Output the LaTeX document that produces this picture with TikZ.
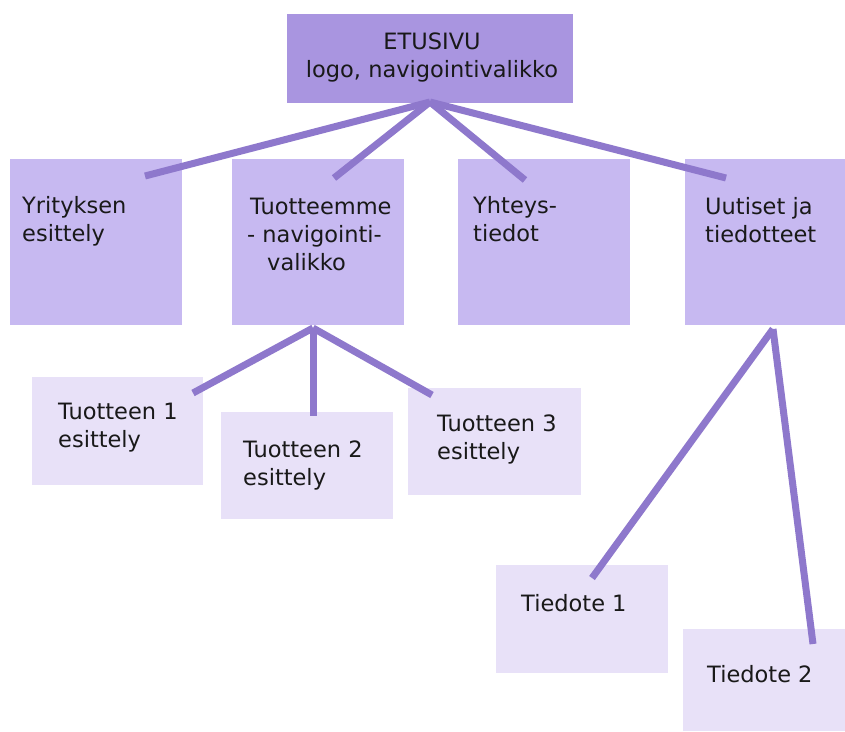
\documentclass[tikz,border=0pt]{standalone}
\usepackage{fontspec}
\setmainfont{DejaVu Sans}
\definecolor{topc}{HTML}{A995E0}
\definecolor{midc}{HTML}{C7B9F1}
\definecolor{lowc}{HTML}{E8E1F8}
\definecolor{linec}{HTML}{8E78CC}
\tikzset{
  boxbase/.style={draw=none, inner sep=0pt, anchor=north west},
  toplevel/.style={boxbase, fill=topc},
  midlevel/.style={boxbase, fill=midc},
  lowlevel/.style={boxbase, fill=lowc},
  txt/.style={inner sep=0pt, anchor=base west, font=\fontsize{22.5}{28}\selectfont, text=black!90},
  txtc/.style={txt, anchor=base},
  conn/.style={draw=linec, line width=7pt, line cap=butt}
}
\begin{document}
\begin{tikzpicture}[x=1pt,y=-1pt]
\useasboundingbox[fill=white] (0,0) rectangle (845,731);
% boxes
\node[toplevel, minimum width=286pt, minimum height=89pt] (etu) at (287,14) {};
\node[midlevel, minimum width=172pt, minimum height=166pt] (yri) at (10,159) {};
\node[midlevel, minimum width=172pt, minimum height=166pt] (tuo) at (232,159) {};
\node[midlevel, minimum width=172pt, minimum height=166pt] (yht) at (458,159) {};
\node[midlevel, minimum width=160pt, minimum height=166pt] (uut) at (685,159) {};
\node[lowlevel, minimum width=171pt, minimum height=108pt] (t1) at (32,377) {};
\node[lowlevel, minimum width=172pt, minimum height=107pt] (t2) at (221,412) {};
\node[lowlevel, minimum width=173pt, minimum height=107pt] (t3) at (408,388) {};
\node[lowlevel, minimum width=172pt, minimum height=108pt] (ti1) at (496,565) {};
\node[lowlevel, minimum width=162pt, minimum height=102pt] (ti2) at (683,629) {};
% texts
\node[txtc] (etu-a) at (432,49) {ETUSIVU};
\node[txtc] (etu-b) at (432,77) {logo, navigointivalikko};
\node[txt] (yri-a) at (22,213) {Yrityksen};
\node[txt] (yri-b) at (22,241) {esittely};
\node[txt] (tuo-a) at (250,214) {Tuotteemme};
\node[txt] (tuo-b) at (247,242) {- navigointi-};
\node[txt] (tuo-c) at (267,270) {valikko};
\node[txt] (yht-a) at (473,213) {Yhteys-};
\node[txt] (yht-b) at (473,241) {tiedot};
\node[txt] (uut-a) at (705,214) {Uutiset ja};
\node[txt] (uut-b) at (705,242) {tiedotteet};
\node[txt] (t1-a) at (58,419) {Tuotteen 1};
\node[txt] (t1-b) at (58,447) {esittely};
\node[txt] (t2-a) at (243,457) {Tuotteen 2};
\node[txt] (t2-b) at (243,485) {esittely};
\node[txt] (t3-a) at (437,431) {Tuotteen 3};
\node[txt] (t3-b) at (437,459) {esittely};
\node[txt] (ti1-a) at (521,611) {Tiedote 1};
\node[txt] (ti2-a) at (707,682) {Tiedote 2};
% connector points
\coordinate (j0) at (430,102);
\coordinate (e-yri) at (145,176);
\coordinate (e-tuo) at (334,178);
\coordinate (e-yht) at (525,180);
\coordinate (e-uut) at (726,178);
\coordinate (j1) at (313,328);
\coordinate (e-t1) at (193,393);
\coordinate (e-t2) at (313,416);
\coordinate (e-t3) at (432,395);
\coordinate (j2) at (773,329);
\coordinate (e-ti1) at (592,578);
\coordinate (e-ti2) at (813,644);
% connectors
\draw[conn] (j0) -- (e-yri);
\draw[conn] (j0) -- (e-tuo);
\draw[conn] (j0) -- (e-yht);
\draw[conn] (j0) -- (e-uut);
\draw[conn] (j1) -- (e-t1);
\draw[conn] (j1) -- (e-t2);
\draw[conn] (j1) -- (e-t3);
\draw[conn] (j2) -- (e-ti1);
\draw[conn] (j2) -- (e-ti2);
\end{tikzpicture}
\end{document}
